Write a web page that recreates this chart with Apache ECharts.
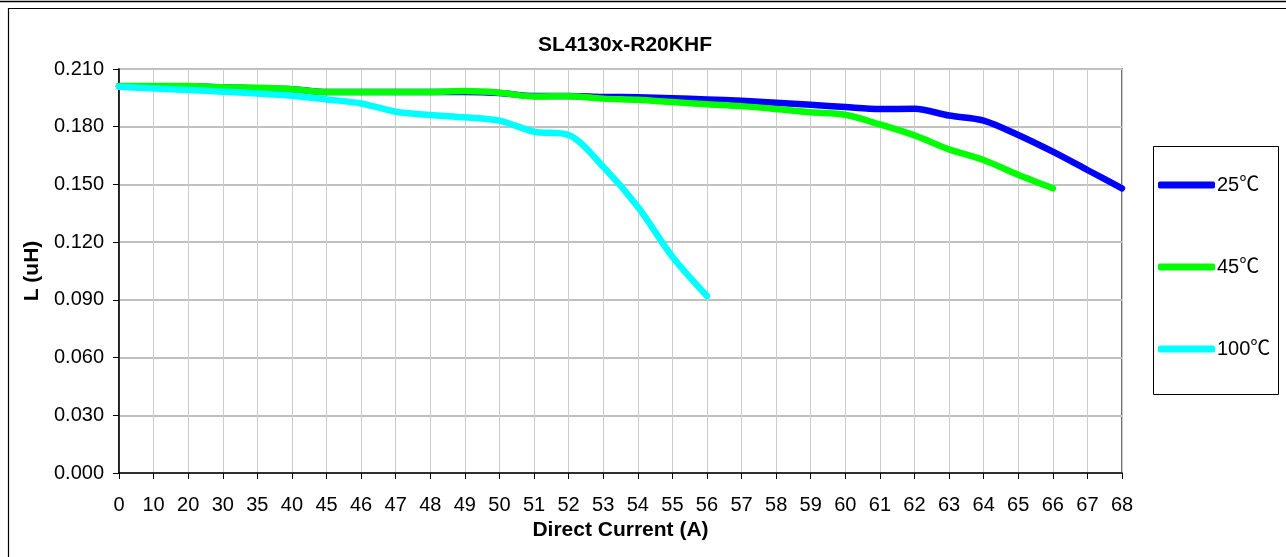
<!DOCTYPE html>
<html>
<head>
<meta charset="utf-8">
<script src="https://cdn.jsdelivr.net/npm/echarts@6/dist/echarts.min.js"></script>
<style>html,body{margin:0;padding:0;background:#fff;}#c{width:1286px;height:557px;}</style>
</head>
<body>
<div id="c"></div>
<script>
const categories = ['0','10','20','30','35','40','45','46','47','48','49','50','51','52','53','54','55','56','57','58','59','60','61','62','63','64','65','66','67','68'];
const s25 = [0.201,0.201,0.201,0.2005,0.200,0.1995,0.198,0.198,0.198,0.198,0.198,0.1975,0.196,0.196,0.1955,0.1953,0.1948,0.1942,0.1935,0.1925,0.1914,0.1902,0.1892,0.1893,0.1858,0.1832,0.1757,0.167,0.1575,0.148];
const s45 = [0.2012,0.2012,0.2011,0.2005,0.2002,0.1995,0.198,0.198,0.198,0.198,0.1985,0.1977,0.1957,0.1959,0.1946,0.194,0.1928,0.1917,0.1907,0.1892,0.1875,0.1862,0.1812,0.1755,0.1682,0.1627,0.155,0.148,null,null];
const s100 = [0.2008,0.1999,0.1991,0.1982,0.1973,0.1961,0.1942,0.1921,0.1878,0.1861,0.1849,0.1832,0.1774,0.1757,0.1592,0.1384,0.1124,0.092];
const seriesNames = ['25℃','45℃','100℃'];
const seriesColors = ['#0000ff','#00ff00','#00ffff'];

const FONT = '"Liberation Sans", Arial, "Noto Sans CJK SC", sans-serif';
const chart = echarts.init(document.getElementById('c'), null, {renderer:'canvas'});
const dataSets = [s25, s45, s100];
chart.setOption({
  animation: false,
  backgroundColor: '#fff',
  title: {
    text: 'SL4130x-R20KHF', left: 620, top: 30, textAlign: 'center',
    textStyle: {fontFamily: FONT, fontSize: 21, fontWeight: 'bold', color: '#000'}
  },
  grid: {left: 119, top: 69, right: 164, bottom: 84, show: true, borderColor: '#404040', borderWidth: 1.5},
  legend: {
    orient: 'vertical', left: 1158, top: 175, itemGap: 62, padding: 0,
    itemWidth: 57, itemHeight: 7, icon: 'roundRect',
    textStyle: {fontFamily: FONT, fontSize: 20, color: '#000', padding: [0,0,0,-3]},
    data: seriesNames
  },
  graphic: [
    {type: 'line', shape: {x1: 0, y1: 1.5, x2: 1286, y2: 1.5}, style: {stroke: '#000', lineWidth: 1.5}},
    {type: 'rect', shape: {x: 8.5, y: 8.5, width: 1300, height: 600}, style: {stroke: '#000', fill: null, lineWidth: 1.2}},
    {type: 'rect', shape: {x: 1153.5, y: 146.5, width: 125, height: 248}, style: {stroke: '#000', fill: null, lineWidth: 1}, z: -1}
  ],
  xAxis: {
    type: 'category', data: categories, boundaryGap: false,
    name: 'Direct Current (A)', nameLocation: 'middle', nameGap: 46,
    nameTextStyle: {fontFamily: FONT, fontSize: 21, fontWeight: 'bold', color: '#000'},
    axisLine: {lineStyle: {color: '#000', width: 1.5}},
    axisTick: {show: true, alignWithLabel: true, length: 6, lineStyle: {color: '#000'}},
    axisLabel: {fontFamily: FONT, fontSize: 20, color: '#000', margin: 22, interval: 0},
    splitLine: {show: true, lineStyle: {color: '#cccccc', width: 1}}
  },
  yAxis: {
    type: 'value', min: 0, max: 0.21, interval: 0.03,
    name: 'L (uH)', nameLocation: 'middle', nameGap: 72, nameRotate: 90,
    nameTextStyle: {fontFamily: FONT, fontSize: 21, fontWeight: 'bold', color: '#000'},
    axisLine: {show: true, lineStyle: {color: '#000', width: 1.5}},
    axisTick: {show: true, length: 6, lineStyle: {color: '#000'}},
    axisLabel: {fontFamily: FONT, fontSize: 20, color: '#000', margin: 15, formatter: v => v.toFixed(3)},
    splitLine: {show: true, lineStyle: {color: '#c0c0c0', width: 2}}
  },
  series: dataSets.map((d, k) => ({
    name: seriesNames[k], type: 'line', data: d, smooth: 0.3, showSymbol: false, symbol: 'none',
    connectNulls: false,
    itemStyle: {color: seriesColors[k]},
    lineStyle: {color: seriesColors[k], width: 6.5, cap: 'round', join: 'round'},
    z: 2 + k
  }))
});
</script>
</body>
</html>
